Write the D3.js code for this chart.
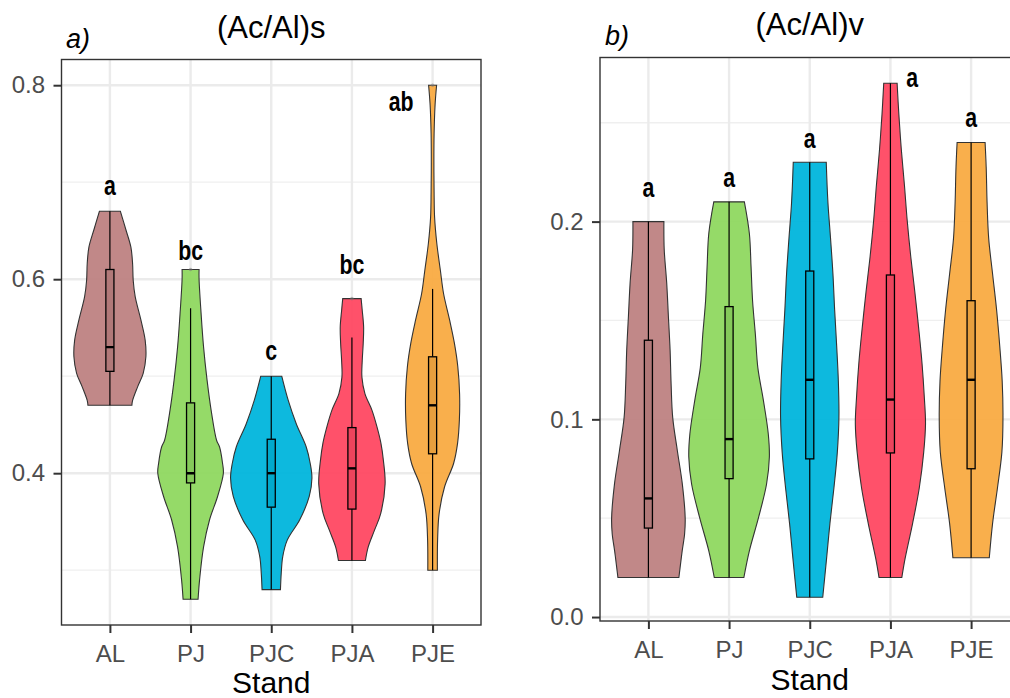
<!DOCTYPE html>
<html><head><meta charset="utf-8">
<script src="https://cdn.jsdelivr.net/npm/d3@7"></script>
<style>body{margin:0;background:#fff}svg{display:block}</style>
</head><body>
<svg id="chart" width="1010" height="698"></svg>
<script>
// ---------- shared data ----------
const stands = ["AL", "PJ", "PJC", "PJA", "PJE"];
const standColors = ["#BE8282", "#8FD860", "#00B5DC", "#FF4862", "#F9AB42"];
const xAxisTitle = "Stand";

// ---------- panel a : (Ac/Al)s ----------
const sTitle = "(Ac/Al)s";
const sTag = "a)";
const sYTicks = [0.4, 0.6, 0.8];
const sYMinor = [0.3, 0.5, 0.7];
const sYDomain = [0.2435, 0.8265];
// violin outline: values and half-widths (width units: 80.7 = one category step)
const sViolinValues = [
  [0.67, 0.651, 0.633, 0.616, 0.599, 0.582, 0.558, 0.537, 0.52, 0.503, 0.489, 0.475, 0.47],
  [0.61, 0.6, 0.565, 0.53, 0.496, 0.462, 0.434, 0.427, 0.41, 0.4, 0.376, 0.352, 0.324, 0.29, 0.27],
  [0.5, 0.475, 0.451, 0.427, 0.41, 0.395, 0.376, 0.352, 0.331, 0.314, 0.297, 0.28],
  [0.58, 0.568, 0.551, 0.534, 0.516, 0.499, 0.482, 0.465, 0.448, 0.431, 0.413, 0.389, 0.358, 0.341, 0.324, 0.31],
  [0.8, 0.78, 0.75, 0.72, 0.69, 0.664, 0.637, 0.609, 0.585, 0.558, 0.534, 0.51, 0.482, 0.455, 0.431, 0.41, 0.386, 0.358, 0.331, 0.3]
];
const sViolinWidths = [
  [10.5, 16, 21, 22.7, 23.3, 25.3, 31, 35.3, 36, 33.3, 27.7, 22.7, 22],
  [8.5, 8.5, 10.5, 13, 16.5, 21, 26, 29, 32, 32.8, 27, 19, 13, 9, 7.5],
  [10.5, 17, 25, 35, 39, 40.7, 38, 28.5, 16, 11.5, 10, 9.2],
  [9.2, 10.3, 11.7, 11.3, 10.3, 10, 13, 20, 25, 29, 31.5, 33.2, 28.7, 22.5, 16.3, 13.5],
  [4, 2.5, 1.5, 1.3, 1.5, 2, 4.2, 7.8, 11, 17, 21.8, 25.2, 27, 26.8, 25, 21, 12, 6.5, 5, 4.8]
];
// box stats: [lower whisker, q1, median, q3, upper whisker]
const sBoxes = [
  [0.47, 0.505, 0.53, 0.61, 0.67],
  [0.27, 0.39, 0.40, 0.4725, 0.57],
  [0.28, 0.365, 0.40, 0.435, 0.50],
  [0.31, 0.363, 0.405, 0.447, 0.54],
  [0.30, 0.42, 0.47, 0.52, 0.59]
];
const sOutliers = [[], [0.61], [], [0.58], [0.8]];
const sLetters = ["a", "bc", "c", "bc", "ab"];
const sLetterY = [0.687, 0.62, 0.517, 0.605, 0.773];
const sLetterShift = [0, 0, 0, 0, -0.39];

// ---------- panel b : (Ac/Al)v ----------
const vTitle = "(Ac/Al)v";
const vTag = "b)";
const vYTicks = [0.0, 0.1, 0.2];
const vYMinor = [0.05, 0.15, 0.25];
const vYDomain = [-0.002, 0.283];
const vViolinValues = [
  [0.2, 0.186, 0.169, 0.152, 0.135, 0.118, 0.101, 0.084, 0.067, 0.05, 0.042, 0.0335, 0.025, 0.02],
  [0.21, 0.194, 0.177, 0.16, 0.143, 0.126, 0.11, 0.0927, 0.081, 0.0673, 0.0504, 0.0335, 0.02],
  [0.23, 0.2095, 0.1915, 0.1735, 0.1554, 0.1374, 0.1194, 0.1014, 0.0834, 0.0654, 0.0474, 0.0294, 0.01],
  [0.27, 0.2545, 0.2365, 0.2185, 0.2005, 0.1825, 0.1645, 0.1464, 0.1284, 0.1104, 0.0978, 0.0834, 0.0654, 0.0474, 0.0294, 0.02],
  [0.24, 0.2275, 0.2095, 0.1915, 0.1735, 0.1554, 0.1374, 0.1194, 0.1014, 0.0834, 0.0654, 0.0474, 0.03]
];
const vViolinWidths = [
  [15.5, 15.8, 18.3, 20, 21.7, 22.7, 24.3, 29, 34, 36.8, 36.2, 33.8, 31.7, 30.5],
  [15.3, 20.3, 22, 23.5, 26.3, 28.8, 34.2, 39.2, 40.3, 37.5, 29.5, 20.3, 14.8],
  [16.5, 18.2, 20.8, 23.2, 24.9, 26.9, 28.6, 29.2, 27.6, 24.2, 20.2, 16.8, 13],
  [6.7, 8.4, 10.9, 14, 16.8, 20.3, 24.4, 28.2, 31.6, 34, 35.1, 33.3, 28.9, 22.2, 14.6, 11.4],
  [14, 15.1, 16, 17.6, 21.5, 25.5, 28.6, 31.1, 31.9, 30.8, 26.4, 21.5, 18.2]
];
const vBoxes = [
  [0.02, 0.045, 0.06, 0.14, 0.20],
  [0.02, 0.07, 0.09, 0.157, 0.21],
  [0.01, 0.08, 0.12, 0.175, 0.23],
  [0.02, 0.083, 0.11, 0.173, 0.27],
  [0.03, 0.075, 0.12, 0.16, 0.24]
];
const vOutliers = [[], [], [], [], []];
const vLetters = ["a", "a", "a", "a", "a"];
const vLetterY = [0.2125, 0.2175, 0.237, 0.268, 0.248];
const vLetterShift = [0, 0, 0, 0.27, 0];

// ---------- drawing ----------
const svg = d3.select("#chart");
svg.append("rect").attr("width", 1010).attr("height", 698).attr("fill", "#fff");

const FONT = "'Liberation Sans', Arial, Helvetica, sans-serif";

function drawPanel(p) {
  const {left, right, top, bottom} = p.box;
  const x = d3.scalePoint().domain(stands).range([left, right]).padding(0.6);
  const y = d3.scaleLinear().domain(p.yDomain).range([bottom, top]);
  const step = x.step();
  const w = d3.scaleLinear().domain([0, 80.7]).range([0, step]);

  const g = svg.append("g");
  const clipId = "clip-" + p.id;
  g.append("clipPath").attr("id", clipId).append("rect")
    .attr("x", left).attr("y", top).attr("width", right - left).attr("height", bottom - top);

  const grid = g.append("g").attr("clip-path", `url(#${clipId})`);
  grid.selectAll("line.minor").data(p.yMinor).join("line")
    .attr("x1", left).attr("x2", right).attr("y1", d => y(d)).attr("y2", d => y(d))
    .attr("stroke", "#EFEFEF").attr("stroke-width", 1.3);
  grid.selectAll("line.majorY").data(p.yTicks).join("line")
    .attr("x1", left).attr("x2", right).attr("y1", d => y(d)).attr("y2", d => y(d))
    .attr("stroke", "#EBEBEB").attr("stroke-width", 2.4);
  grid.selectAll("line.majorX").data(stands).join("line")
    .attr("y1", top).attr("y2", bottom).attr("x1", d => x(d)).attr("x2", d => x(d))
    .attr("stroke", "#EBEBEB").attr("stroke-width", 2.4);

  const marks = g.append("g").attr("clip-path", `url(#${clipId})`);
  stands.forEach((s, i) => {
    const cx = x(s);
    const pts = p.vValues[i].map((v, j) => ({v, hw: p.vWidths[i][j]}));
    const area = d3.area()
      .y(d => y(d.v))
      .x0(d => cx - w(d.hw))
      .x1(d => cx + w(d.hw))
      .curve(d3.curveCatmullRom.alpha(0.5));
    marks.append("path").attr("d", area(pts))
      .attr("fill", standColors[i]).attr("fill-opacity", 0.95)
      .attr("stroke", "#333").attr("stroke-width", 1.1);

    const [lo, q1, med, q3, hi] = p.boxes[i];
    const bw = 0.1 * step;
    marks.append("line").attr("x1", cx).attr("x2", cx).attr("y1", y(hi)).attr("y2", y(q3))
      .attr("stroke", "#000").attr("stroke-width", 1.2);
    marks.append("line").attr("x1", cx).attr("x2", cx).attr("y1", y(q1)).attr("y2", y(lo))
      .attr("stroke", "#000").attr("stroke-width", 1.2);
    marks.append("rect").attr("x", cx - bw / 2).attr("width", bw)
      .attr("y", y(q3)).attr("height", y(q1) - y(q3))
      .attr("fill", d3.color(standColors[i]).darker(0.25)).attr("fill-opacity", 0.85)
      .attr("stroke", "#000").attr("stroke-width", 1.3);
    marks.append("line").attr("x1", cx - bw / 2).attr("x2", cx + bw / 2)
      .attr("y1", y(med)).attr("y2", y(med))
      .attr("stroke", "#000").attr("stroke-width", 2.4);
    marks.selectAll(null).data(p.outliers[i]).join("circle")
      .attr("cx", cx).attr("cy", d => y(d)).attr("r", 1.8)
      .attr("fill", "#777").attr("fill-opacity", 0.5);

    // significance letters: bold, horizontally condensed
    const lx = cx + p.letterShift[i] * step, ly = y(p.letterY[i]);
    g.append("text").attr("transform", `translate(${lx},${ly}) scale(0.76,1)`)
      .attr("text-anchor", "middle").attr("font-family", FONT)
      .attr("font-weight", "bold").attr("font-size", 28).attr("fill", "#000")
      .text(p.letters[i]);
  });

  // panel border
  g.append("rect").attr("x", left).attr("y", top).attr("width", right - left).attr("height", bottom - top)
    .attr("fill", "none").attr("stroke", "#333").attr("stroke-width", 1.4);

  // axes
  const yAxis = d3.axisLeft(y).tickValues(p.yTicks).tickFormat(d3.format(".1f")).tickSize(8).tickPadding(8.5);
  const ya = g.append("g").attr("transform", `translate(${left},0)`).call(yAxis);
  ya.select(".domain").remove();
  ya.selectAll(".tick line").attr("stroke", "#333").attr("stroke-width", 2);
  ya.selectAll(".tick text").attr("font-family", FONT).attr("font-size", 24).attr("fill", "#4D4D4D");

  const xAxis = d3.axisBottom(x).tickSize(8).tickPadding(12);
  const xa = g.append("g").attr("transform", `translate(0,${bottom})`).call(xAxis);
  xa.select(".domain").remove();
  xa.selectAll(".tick line").attr("stroke", "#333").attr("stroke-width", 2);
  xa.selectAll(".tick text").attr("font-family", FONT).attr("font-size", 24).attr("fill", "#4D4D4D");

  // titles
  const mid = (left + right) / 2;
  g.append("text").attr("x", mid).attr("y", p.titleY).attr("text-anchor", "middle")
    .attr("font-family", FONT).attr("font-size", 31).attr("fill", "#000").text(p.title);
  g.append("text").attr("x", p.tagX).attr("y", p.tagY)
    .attr("font-family", FONT).attr("font-style", "italic").attr("font-size", 27).attr("fill", "#000").text(p.tag);
  g.append("text").attr("x", mid).attr("y", p.axisTitleY).attr("text-anchor", "middle")
    .attr("font-family", FONT).attr("font-size", 30).attr("fill", "#000").text(xAxisTitle);
}

drawPanel({
  id: "a", box: {left: 61.5, right: 481, top: 59.5, bottom: 625},
  yDomain: sYDomain, yTicks: sYTicks, yMinor: sYMinor,
  vValues: sViolinValues, vWidths: sViolinWidths, boxes: sBoxes, outliers: sOutliers,
  letters: sLetters, letterY: sLetterY, letterShift: sLetterShift,
  title: sTitle, titleY: 38, tag: sTag, tagX: 66, tagY: 48, axisTitleY: 693
});
drawPanel({
  id: "b", box: {left: 600, right: 1019.5, top: 57.5, bottom: 621},
  yDomain: vYDomain, yTicks: vYTicks, yMinor: vYMinor,
  vValues: vViolinValues, vWidths: vViolinWidths, boxes: vBoxes, outliers: vOutliers,
  letters: vLetters, letterY: vLetterY, letterShift: vLetterShift,
  title: vTitle, titleY: 35, tag: vTag, tagX: 605, tagY: 45, axisTitleY: 690
});
</script>
</body></html>
